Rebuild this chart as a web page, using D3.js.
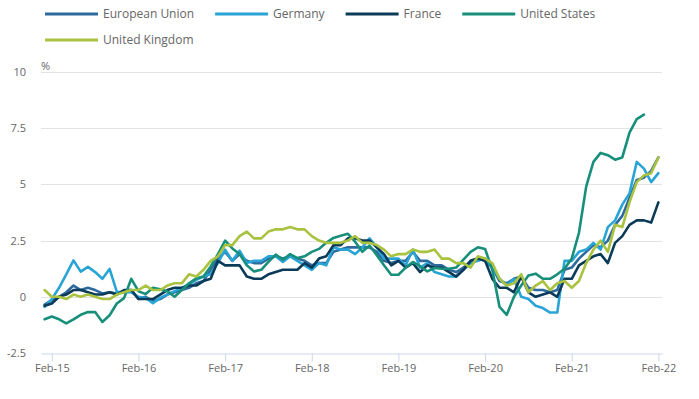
<!DOCTYPE html>
<html><head><meta charset="utf-8">
<script src="https://cdn.jsdelivr.net/npm/d3@7"></script>
<style>body{margin:0;background:#fff}svg{display:block;font-family:"Open Sans",sans-serif}</style>
</head><body><svg id="c" width="699" height="399"></svg>
<script>
const months = [
"Jan-15","Feb-15","Mar-15","Apr-15","May-15","Jun-15","Jul-15","Aug-15","Sep-15","Oct-15","Nov-15","Dec-15",
"Jan-16","Feb-16","Mar-16","Apr-16","May-16","Jun-16","Jul-16","Aug-16","Sep-16","Oct-16","Nov-16","Dec-16",
"Jan-17","Feb-17","Mar-17","Apr-17","May-17","Jun-17","Jul-17","Aug-17","Sep-17","Oct-17","Nov-17","Dec-17",
"Jan-18","Feb-18","Mar-18","Apr-18","May-18","Jun-18","Jul-18","Aug-18","Sep-18","Oct-18","Nov-18","Dec-18",
"Jan-19","Feb-19","Mar-19","Apr-19","May-19","Jun-19","Jul-19","Aug-19","Sep-19","Oct-19","Nov-19","Dec-19",
"Jan-20","Feb-20","Mar-20","Apr-20","May-20","Jun-20","Jul-20","Aug-20","Sep-20","Oct-20","Nov-20","Dec-20",
"Jan-21","Feb-21","Mar-21","Apr-21","May-21","Jun-21","Jul-21","Aug-21","Sep-21","Oct-21","Nov-21","Dec-21",
"Jan-22","Feb-22"];
const xTickLabels = ["Feb-15","Feb-16","Feb-17","Feb-18","Feb-19","Feb-20","Feb-21","Feb-22"];
const yTicks = [-2.5, 0, 2.5, 5, 7.5, 10];
const yTickLabels = ["-2.5","0","2.5","5","7.5","10"];

const seriesNames = ["European Union","Germany","France","United States","United Kingdom"];
const seriesColors = ["#2e6a9e","#29a4d6","#0c3b5a","#178f7a","#a9c23f"];

const euValues = [
-0.35,-0.15,0.0,0.2,0.5,0.3,0.4,0.3,0.15,0.2,0.15,0.25,
0.3,-0.1,0.0,-0.2,-0.1,0.1,0.2,0.3,0.4,0.6,0.7,1.2,
1.7,2.0,1.6,1.9,1.6,1.5,1.5,1.7,1.8,1.7,1.8,1.7,
1.6,1.4,1.5,1.5,2.0,2.1,2.2,2.2,2.2,2.2,2.0,1.6,
1.5,1.6,1.6,2.0,1.6,1.6,1.4,1.4,1.2,1.1,1.3,1.6,
1.7,1.6,1.3,0.7,0.6,0.8,0.9,0.4,0.3,0.3,0.2,0.3,
1.2,1.3,1.7,2.0,2.3,2.2,2.5,3.2,3.6,4.4,5.2,5.3,
5.6,6.2];
const germanyValues = [
-0.45,-0.1,0.4,1.0,1.62,1.12,1.33,1.1,0.8,1.24,0.22,0.2,
0.2,0.0,-0.05,-0.28,-0.05,0.1,0.25,0.4,0.55,0.75,0.9,1.0,
1.5,2.1,1.6,2.05,1.5,1.6,1.6,1.8,1.8,1.55,1.8,1.6,
1.4,1.2,1.5,1.4,2.2,2.1,2.1,1.9,2.2,2.6,2.2,1.7,
1.7,1.7,1.4,2.1,1.3,1.5,1.1,1.0,0.9,0.9,1.2,1.5,
1.6,1.7,1.3,0.8,0.5,0.8,0.0,-0.1,-0.4,-0.5,-0.7,-0.7,
1.6,1.6,2.0,2.1,2.4,2.1,3.1,3.4,4.1,4.6,6.0,5.7,
5.1,5.5];
const franceValues = [
-0.4,-0.3,0.0,0.1,0.3,0.3,0.2,0.1,0.1,0.2,0.1,0.3,
0.3,-0.1,-0.1,-0.1,0.1,0.3,0.4,0.4,0.5,0.5,0.7,0.8,
1.6,1.4,1.4,1.4,0.9,0.8,0.8,1.0,1.1,1.2,1.2,1.2,
1.5,1.3,1.7,1.8,2.3,2.3,2.6,2.6,2.5,2.5,2.2,1.9,
1.4,1.6,1.3,1.5,1.1,1.4,1.3,1.3,1.1,0.9,1.2,1.6,
1.7,1.6,0.8,0.4,0.4,0.2,0.9,0.2,0.0,0.1,0.2,0.0,
0.8,0.8,1.4,1.6,1.8,1.9,1.5,2.4,2.7,3.2,3.4,3.4,
3.3,4.2];
const usValues = [
-1.0,-0.88,-1.0,-1.18,-1.0,-0.8,-0.68,-0.68,-1.12,-0.82,-0.3,-0.06,
0.8,0.25,0.12,0.4,0.33,0.25,0.0,0.3,0.6,0.82,0.9,1.35,
1.9,2.5,2.15,1.9,1.4,1.13,1.2,1.55,1.88,1.65,1.9,1.72,
1.8,2.0,2.13,2.4,2.62,2.72,2.8,2.45,2.0,2.28,1.85,1.4,
0.98,0.98,1.3,1.55,1.35,1.13,1.28,1.25,1.25,1.3,1.65,2.0,
2.2,2.13,1.2,-0.45,-0.8,0.0,0.5,0.95,1.03,0.8,0.8,1.0,
1.25,1.7,2.85,4.9,6.0,6.4,6.3,6.1,6.2,7.3,7.9,8.1];
const ukValues = [
0.3,0.0,0.0,-0.1,0.1,0.0,0.1,0.0,-0.1,-0.1,0.1,0.2,
0.3,0.3,0.5,0.3,0.3,0.5,0.6,0.6,1.0,0.9,1.2,1.6,
1.8,2.3,2.3,2.7,2.9,2.6,2.6,2.9,3.0,3.0,3.1,3.0,
3.0,2.7,2.5,2.4,2.4,2.4,2.5,2.7,2.4,2.4,2.3,2.1,
1.8,1.9,1.9,2.1,2.0,2.0,2.1,1.7,1.7,1.5,1.5,1.3,
1.8,1.7,1.5,0.8,0.5,0.6,1.0,0.2,0.5,0.7,0.3,0.6,
0.7,0.4,0.7,1.5,2.1,2.5,2.0,3.2,3.1,4.2,5.1,5.4,
5.5,6.2];

const allValues = [euValues, germanyValues, franceValues, usValues, ukValues];

const svg = d3.select("#c");
const textColor = "#666";
const x = d3.scalePoint().domain(months).range([41, 662]).padding(0.5);
const y = d3.scaleLinear().domain([-2.5, 10]).range([353, 72]);

// gridlines
svg.append("g").selectAll("line").data(yTicks.filter(d => d > -2.5)).join("line")
  .attr("x1", 41).attr("x2", 662)
  .attr("y1", d => Math.round(y(d)) + 0.5).attr("y2", d => Math.round(y(d)) + 0.5)
  .attr("stroke", "#e3e3e3").attr("stroke-width", 1);

// y labels
svg.append("g").selectAll("text").data(yTicks).join("text")
  .attr("x", 26).attr("y", d => y(d) + 1)
  .attr("text-anchor", "end").attr("dominant-baseline", "middle")
  .attr("font-size", 11).attr("fill", textColor)
  .text((d, i) => yTickLabels[i]);

svg.append("text").attr("x", 41).attr("y", 67).attr("dominant-baseline", "middle")
  .attr("font-size", 11).attr("fill", textColor).text("%");

// x axis
const xAxis = d3.axisBottom(x)
  .tickValues(xTickLabels)
  .tickSize(8).tickSizeOuter(0).tickPadding(3);
const gx = svg.append("g").attr("transform", "translate(0," + 353.5 + ")").call(xAxis);
gx.select(".domain").attr("stroke", "#ccd6eb");
gx.selectAll(".tick line").attr("stroke", "#ccd6eb");
gx.selectAll(".tick text").attr("fill", textColor).attr("font-size", 11)
  .attr("font-family", "Open Sans, sans-serif");

// lines
const line = d3.line().x((d, i) => x(months[i])).y(d => y(d));
svg.append("g").selectAll("path").data(allValues).join("path")
  .attr("d", d => line(d))
  .attr("fill", "none")
  .attr("stroke", (d, i) => seriesColors[i])
  .attr("stroke-width", 2.6)
  .attr("stroke-linejoin", "round").attr("stroke-linecap", "round");

// legend
const legend = svg.append("g");
let lx = 45, ly = 14;
seriesNames.forEach((name, i) => {
  const g = legend.append("g");
  const t = g.append("text").attr("font-size", 12).attr("fill", textColor)
    .attr("dominant-baseline", "middle").text(name);
  const w = t.node().getComputedTextLength();
  if (lx + 58 + w > 660) { lx = 45; ly += 26; }
  g.append("line").attr("x1", lx).attr("x2", lx + 53).attr("y1", ly).attr("y2", ly)
    .attr("stroke", seriesColors[i]).attr("stroke-width", 3);
  t.attr("x", lx + 58).attr("y", ly + 1);
  lx += 58 + w + 21;
});
</script></body></html>
